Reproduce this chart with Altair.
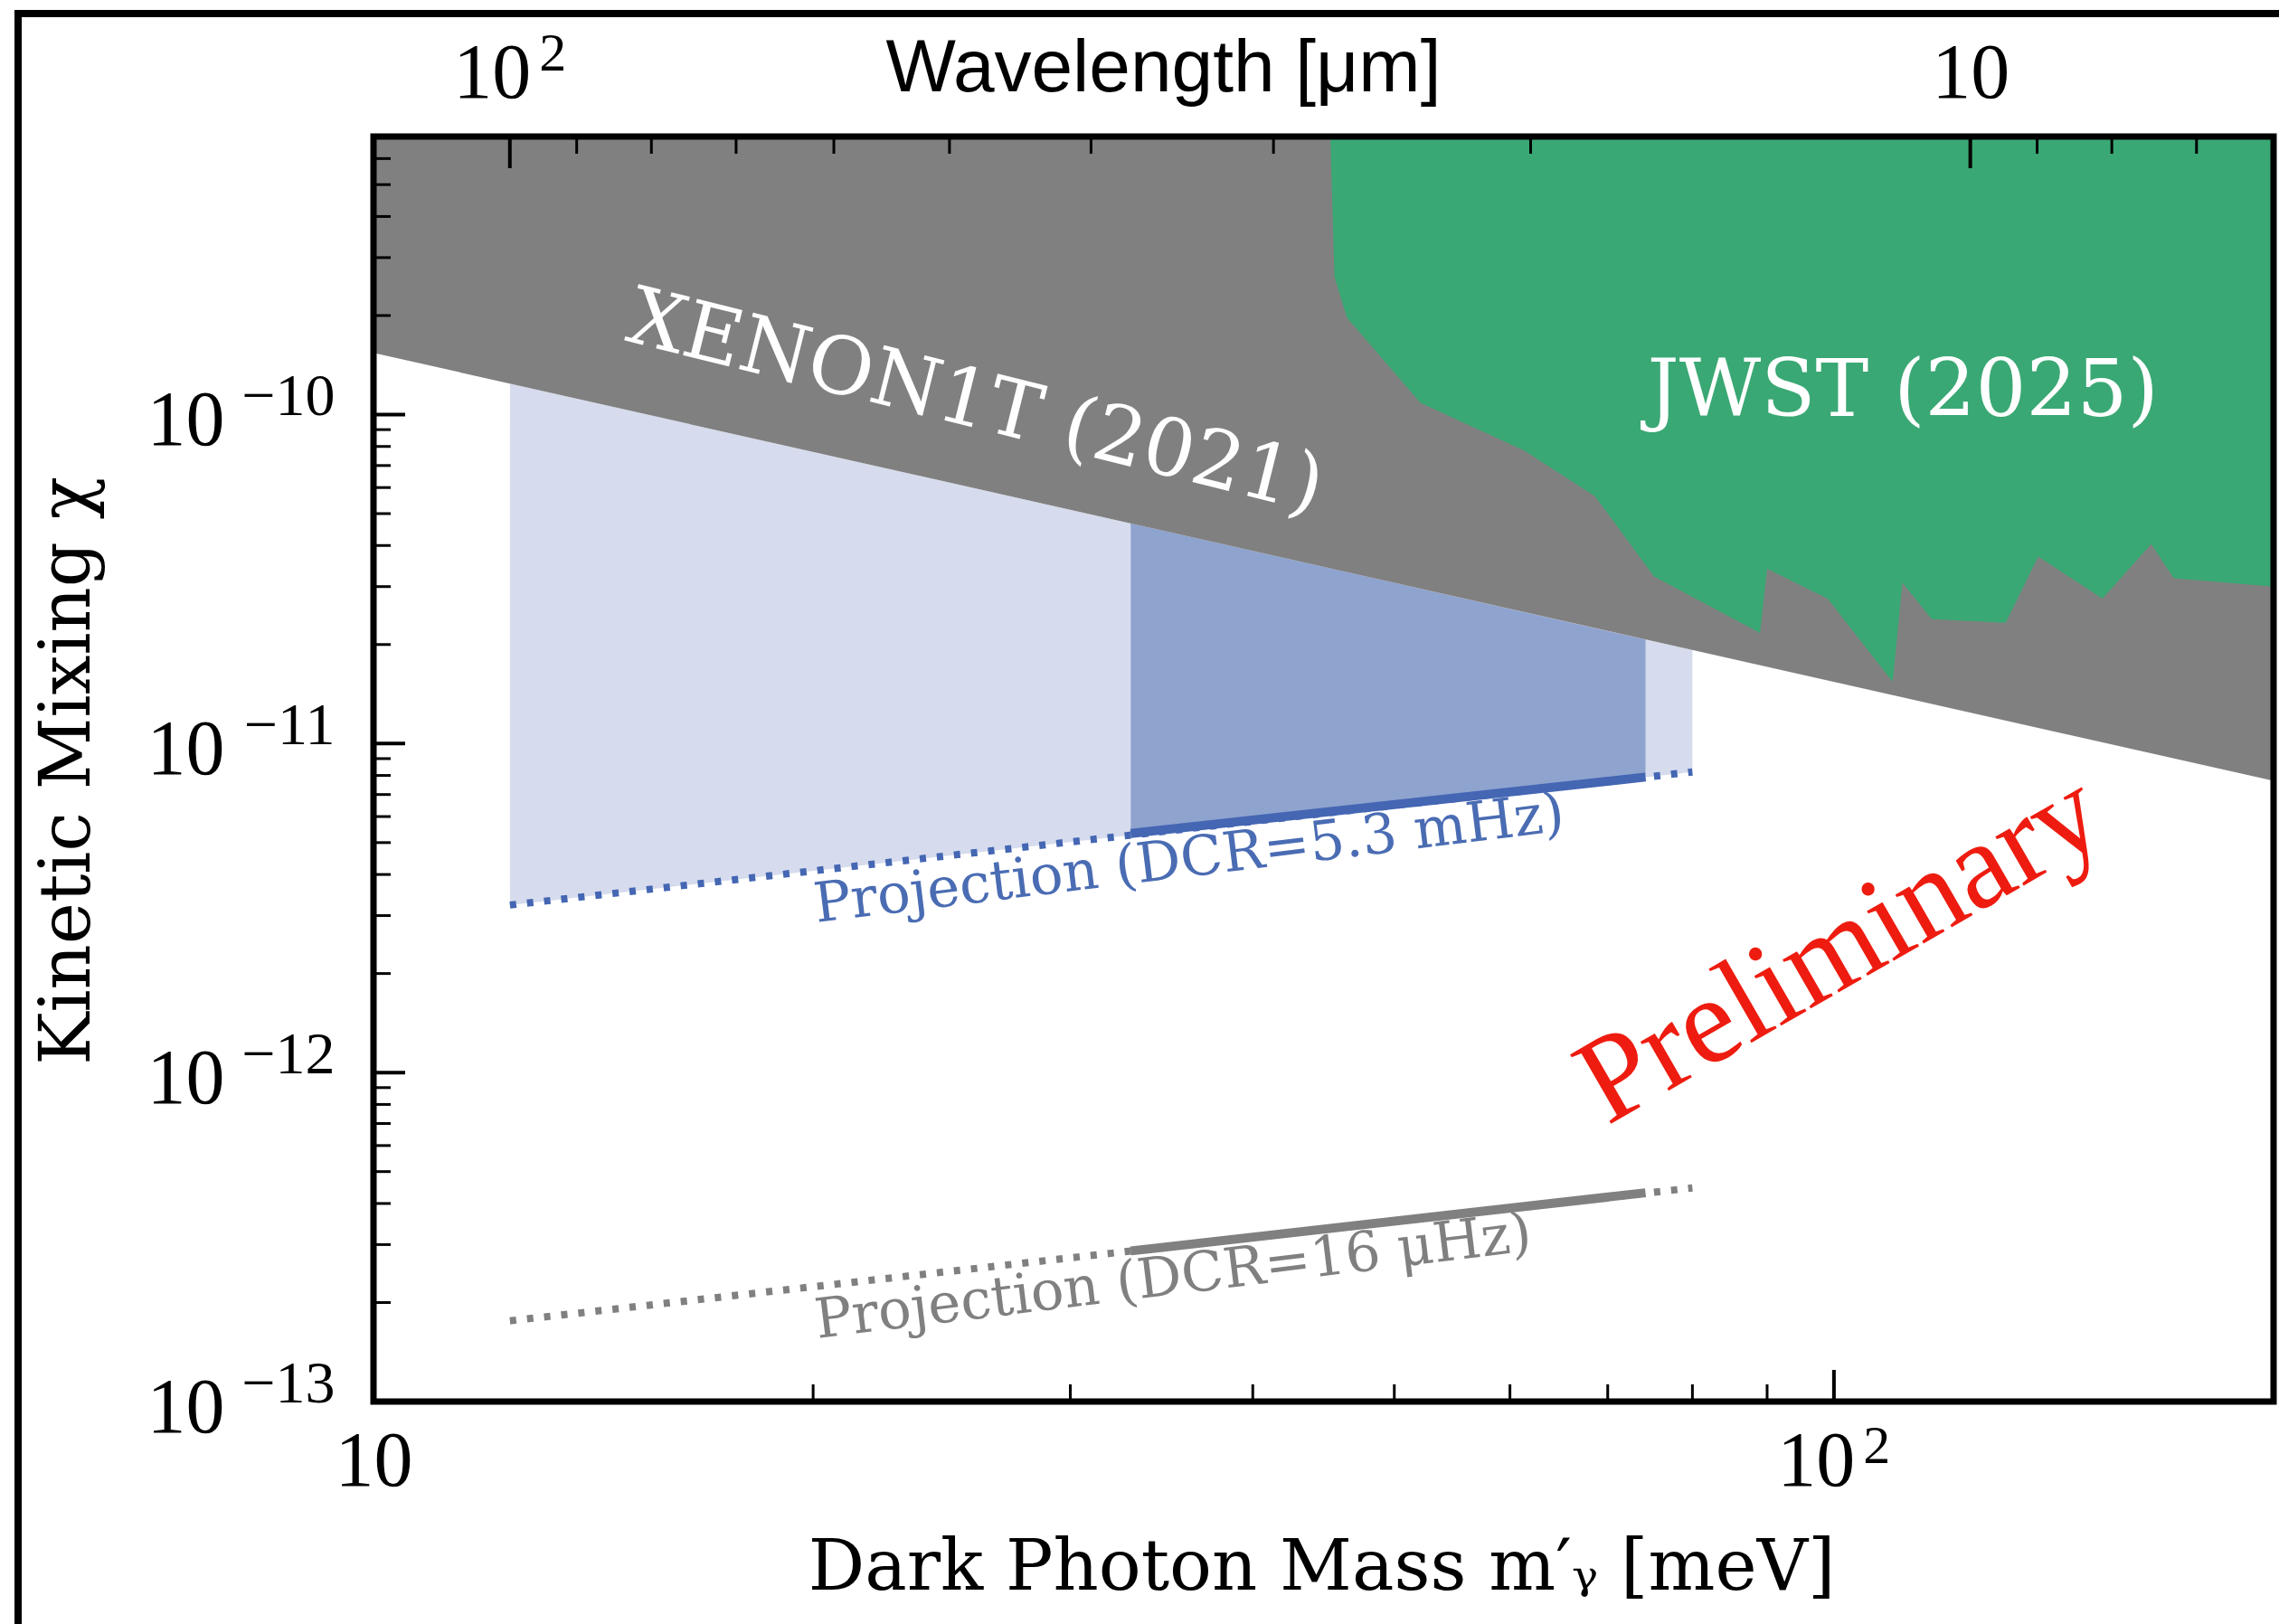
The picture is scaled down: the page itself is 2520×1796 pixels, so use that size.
import altair as alt
import pandas as pd

HC = 1239.84  # meV * um, converts wavelength [um] to mass [meV]

X_DOMAIN = [10, 200]
Y_DOMAIN = [1e-13, 7e-10]

# XENON1T (2021) boundary (excluded above)
xenon_m = [10, 200]
xenon_chi = [1.54e-10, 7.7e-12]

# JWST (2025) lower boundary (excluded above)
jwst_m = [45.2, 45.5, 46.4, 52.1, 61.4, 68.6, 75.3, 89.0, 90.0, 99.0, 109.7,
          111.4, 116.7, 131.1, 138.0, 152.7, 164.9, 170.9, 200.0]
jwst_chi = [7e-10, 2.62e-10, 1.97e-10, 1.086e-10, 7.76e-11, 5.65e-11, 3.22e-11,
            2.17e-11, 3.40e-11, 2.76e-11, 1.54e-11, 3.08e-11, 2.39e-11, 2.33e-11,
            3.70e-11, 2.76e-11, 4.04e-11, 3.18e-11, 3.00e-11]

# projection band (full range, dotted)
band_m = [12.4, 80.0]
band_upper = [1.242e-10, 1.925e-11]
blue_dotted = [3.23e-12, 8.2e-12]
gray_dotted = [1.76e-13, 4.46e-13]

# projection core range (solid)
core_m = [33.0, 74.3]
core_upper = [4.67e-11, 2.07e-11]
blue_solid = [5.33e-12, 7.91e-12]
gray_solid = [2.87e-13, 4.31e-13]

# ticks
x_major = [10, 100]
x_minor = [20, 30, 40, 50, 60, 70, 80, 90]
lam_major = [100, 10]
lam_minor = [90, 80, 70, 60, 50, 40, 30, 20, 9, 8, 7]
y_major = [1e-13, 1e-12, 1e-11, 1e-10]
y_minor = [k * 10.0 ** e for e in (-13, -12, -11) for k in range(2, 10)] + \
          [2e-10, 3e-10, 4e-10, 5e-10, 6e-10, 7e-10]

# annotations
ann_xenon = {"m": [25.6], "c": [9.2e-11], "t": ["XENON1T (2021)"]}
ann_jwst = {"m": [111.5], "c": [9.9e-11], "t": ["JWST (2025)"]}
ann_blue = {"m": [36.3], "c": [3.95e-12], "t": ["Projection (DCR=5.3 mHz)"]}
ann_gray = {"m": [35.4], "c": [2.12e-13], "t": ["Projection (DCR=16 \u03bcHz)"]}
ann_prelim = {"m": [104.0], "c": [1.9e-12], "t": ["Preliminary"]}

W, H = 2101, 1399

GRAY = "#808080"
GREEN = "#3aa874"
LIGHT_BLUE = "#d6dced"
MID_BLUE = "#8fa3cf"
LINE_BLUE = "#4466b3"
TEXT_BLUE = "#4a6cb3"
RED = "#ee1c10"
NUM_FONT = "Liberation Serif"
SERIF = "DejaVu Serif"

XS = alt.Scale(type="log", domain=X_DOMAIN, nice=False)
YS = alt.Scale(type="log", domain=Y_DOMAIN, nice=False)


def X(f):
    return alt.X(f, type="quantitative", scale=XS, axis=None)


def Y(f):
    return alt.Y(f, type="quantitative", scale=YS, axis=None)


df_xenon = pd.DataFrame({"m": xenon_m, "c": xenon_chi, "top": [Y_DOMAIN[1]] * len(xenon_m)})
df_jwst = pd.DataFrame({"m": jwst_m, "c": jwst_chi, "top": [Y_DOMAIN[1]] * len(jwst_m)})
df_band = pd.DataFrame({"m": band_m, "up": band_upper, "blue": blue_dotted, "gray": gray_dotted})
df_core = pd.DataFrame({"m": core_m, "up": core_upper, "blue": blue_solid, "gray": gray_solid})

light = alt.Chart(df_band).mark_area(color=LIGHT_BLUE, clip=True).encode(
    x=X("m"), y=Y("up"), y2=alt.Y2("blue"))
core = alt.Chart(df_core).mark_area(color=MID_BLUE, clip=True).encode(
    x=X("m"), y=Y("up"), y2=alt.Y2("blue"))
xenon = alt.Chart(df_xenon).mark_area(color=GRAY, clip=True).encode(
    x=X("m"), y=Y("c"), y2=alt.Y2("top"))
jwst = alt.Chart(df_jwst).mark_area(color=GREEN, clip=True).encode(
    x=X("m"), y=Y("c"), y2=alt.Y2("top"))

blue_dot = alt.Chart(df_band).mark_line(color=LINE_BLUE, strokeWidth=8, strokeDash=[7, 12]).encode(
    x=X("m"), y=Y("blue"))
gray_dot = alt.Chart(df_band).mark_line(color=GRAY, strokeWidth=8, strokeDash=[7, 12]).encode(
    x=X("m"), y=Y("gray"))
blue_line = alt.Chart(df_core).mark_line(color=LINE_BLUE, strokeWidth=10).encode(
    x=X("m"), y=Y("blue"))
gray_line = alt.Chart(df_core).mark_line(color=GRAY, strokeWidth=10).encode(
    x=X("m"), y=Y("gray"))


def label(d, angle, size, color, font):
    return alt.Chart(pd.DataFrame(d)).mark_text(
        angle=angle, align="center", baseline="alphabetic", fontSize=size,
        color=color, font=font).encode(x=X("m"), y=Y("c"), text="t:N")


t_xenon = label(ann_xenon, 14, 88, "white", SERIF)
t_jwst = label(ann_jwst, 0, 88, "white", SERIF)
t_blue = label(ann_blue, 353, 61, TEXT_BLUE, SERIF)
t_gray = label(ann_gray, 353, 61, GRAY, SERIF)
t_prelim = label(ann_prelim, 330, 136, RED, NUM_FONT)

# inward ticks
MAJ, MIN = 35, 19
bx_major = alt.Chart(pd.DataFrame({"m": x_major})).mark_rule(color="black", strokeWidth=4).encode(
    x=X("m"), y=alt.value(H), y2=alt.value(H - MAJ))
bx_minor = alt.Chart(pd.DataFrame({"m": x_minor})).mark_rule(color="black", strokeWidth=3).encode(
    x=X("m"), y=alt.value(H), y2=alt.value(H - MIN))
tx_major = alt.Chart(pd.DataFrame({"lam": lam_major})).transform_calculate(
    m=f"{HC} / datum.lam").mark_rule(color="black", strokeWidth=4).encode(
    x=X("m"), y=alt.value(0), y2=alt.value(MAJ))
tx_minor = alt.Chart(pd.DataFrame({"lam": lam_minor})).transform_calculate(
    m=f"{HC} / datum.lam").mark_rule(color="black", strokeWidth=3).encode(
    x=X("m"), y=alt.value(0), y2=alt.value(MIN))
ly_major = alt.Chart(pd.DataFrame({"c": y_major})).mark_rule(color="black", strokeWidth=4).encode(
    y=Y("c"), x=alt.value(0), x2=alt.value(MAJ))
ly_minor = alt.Chart(pd.DataFrame({"c": y_minor})).mark_rule(color="black", strokeWidth=3).encode(
    y=Y("c"), x=alt.value(0), x2=alt.value(MIN))

# frame
frame = alt.Chart(pd.DataFrame({"x1": [X_DOMAIN[0]], "x2": [X_DOMAIN[1]],
                                "y1": [Y_DOMAIN[0]], "y2": [Y_DOMAIN[1]]})).mark_rect(
    filled=False, stroke="black", strokeWidth=7, clip=False).encode(
    x=X("x1"), x2=alt.X2("x2"), y=Y("y1"), y2=alt.Y2("y2"))

# outer border of the figure
one = pd.DataFrame({"a": [0]})
border_left = alt.Chart(one).mark_rule(color="black", strokeWidth=8).encode(
    x=alt.value(-393), y=alt.value(-140), y2=alt.value(1650))
border_top = alt.Chart(one).mark_rule(color="black", strokeWidth=8).encode(
    x=alt.value(-397), x2=alt.value(2110), y=alt.value(-136))

COMMON = dict(ticks=False, tickSize=0, domain=False, grid=False, labelFlush=False,
              labelOverlap=False, labelColor="black", labelFont=NUM_FONT,
              labelBaseline="alphabetic", titleColor="black", titleFontWeight="normal")


def xaxis_layer(values, axis):
    return alt.Chart(pd.DataFrame({"m": values})).mark_point(opacity=0).encode(
        x=alt.X("m:Q", scale=XS, axis=axis))


def yaxis_layer(values, axis):
    return alt.Chart(pd.DataFrame({"c": values})).mark_point(opacity=0).encode(
        y=alt.Y("c:Q", scale=YS, axis=axis))


top_major_m = [HC / l for l in lam_major]

ax_bottom = xaxis_layer(x_major, alt.Axis(
    orient="bottom", values=x_major, labelExpr="'10'", labelFontSize=86,
    labelPadding=92, labelAlign="center",
    labelOffset={"condition": {"test": "datum.value > 50", "value": -20}, "value": 0},
    title="Dark Photon Mass m\u2032\u1d67 [meV]", titleFont=SERIF, titleFontSize=78,
    titleX=1048, titleY=207, titleAlign="center", titleBaseline="alphabetic", **COMMON))
ax_bottom_exp = xaxis_layer([100], alt.Axis(
    orient="bottom", values=[100], labelExpr="'2'", labelFontSize=60,
    labelPadding=67, labelAlign="center", labelOffset=47, title="",
    **COMMON))
ax_top = xaxis_layer(top_major_m, alt.Axis(
    orient="top", values=top_major_m, labelExpr="'10'", labelFontSize=86,
    labelPadding=44, labelAlign="center",
    labelOffset={"condition": {"test": "datum.value < 20", "value": -20}, "value": 0},
    title="Wavelength [\u03bcm]", titleFont="Liberation Sans", titleFontSize=82,
    titleX=873, titleY=-51, titleAlign="center", titleBaseline="alphabetic", **COMMON))
ax_top_exp = xaxis_layer([top_major_m[0]], alt.Axis(
    orient="top", values=[top_major_m[0]], labelExpr="'2'", labelFontSize=60,
    labelPadding=74, labelAlign="center", labelOffset=47, title="", **COMMON))
ax_left = yaxis_layer(y_major, alt.Axis(
    orient="left", values=y_major, labelExpr="'10'", labelFontSize=86,
    labelPadding=165, labelAlign="right", labelOffset=33,
    title="Kinetic Mixing \u03c7", titleFont=SERIF, titleFontSize=78,
    titleX=-315, titleY=701, titleAngle=270, titleAlign="center",
    titleBaseline="alphabetic", **COMMON))
ax_left_exp = yaxis_layer(y_major, alt.Axis(
    orient="left", values=y_major,
    labelExpr="'\u2212' + round(-log(datum.value) / LN10)", labelFontSize=66,
    labelPadding=43, labelAlign="right", labelOffset=0, title="", **COMMON))

chart = alt.layer(
    light, core, xenon, jwst,
    blue_dot, gray_dot, blue_line, gray_line,
    t_xenon, t_jwst, t_blue, t_gray, t_prelim,
    bx_major, bx_minor, tx_major, tx_minor, ly_major, ly_minor,
    frame, border_left, border_top,
    ax_bottom, ax_bottom_exp, ax_top, ax_top_exp, ax_left, ax_left_exp,
).resolve_axis(x="independent", y="independent").properties(
    width=W, height=H,
    padding={"left": 413, "top": 151, "right": 6, "bottom": 246},
    autosize=alt.AutoSizeParams(type="none"),
    background="white",
).configure_view(strokeWidth=0)

chart.save("out.html", embed_options={"renderer": "svg", "actions": False})
